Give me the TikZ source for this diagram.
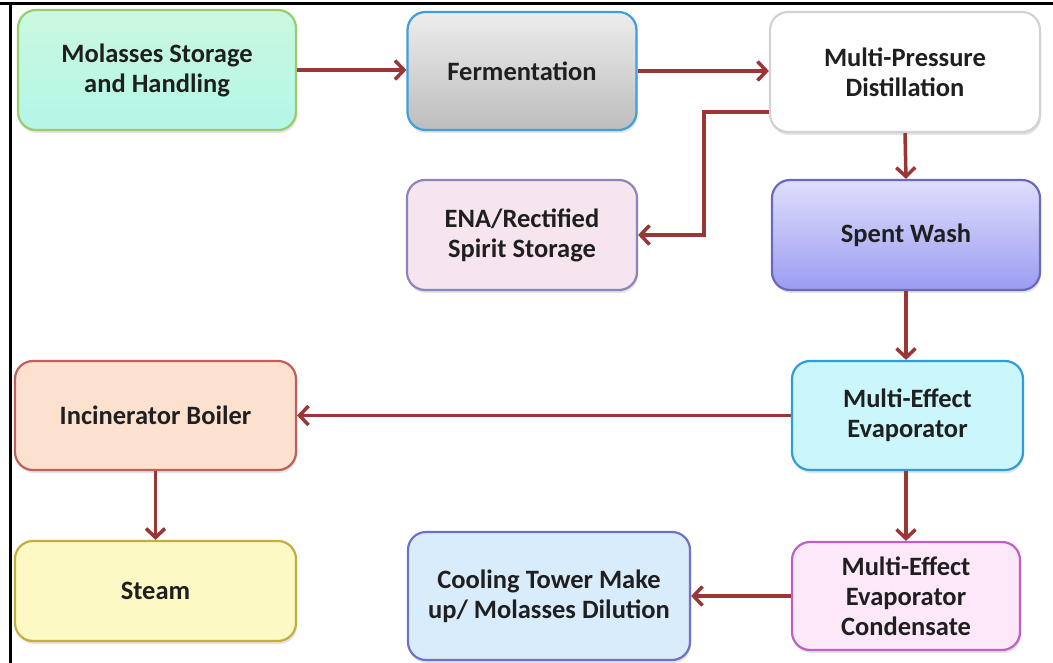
\documentclass[tikz,border=0pt]{standalone}
\usepackage{fontspec}
\setmainfont{Carlito}
\usetikzlibrary{arrows.meta,shadows}
\definecolor{arrowred}{HTML}{9A3636}
\definecolor{molB}{HTML}{9ACD6A}\definecolor{molT}{HTML}{CBF8DF}\definecolor{molD}{HTML}{B3F6E8}
\definecolor{ferB}{HTML}{3E9FDC}\definecolor{ferT}{HTML}{EDEDED}\definecolor{ferD}{HTML}{BDBDBD}
\definecolor{mpdB}{HTML}{D2D2D2}
\definecolor{enaB}{HTML}{8A86BB}\definecolor{enaF}{HTML}{F6E4EE}
\definecolor{spwB}{HTML}{6A6AB8}\definecolor{spwT}{HTML}{DEDEFC}\definecolor{spwD}{HTML}{9C9CF3}
\definecolor{incB}{HTML}{C0605A}\definecolor{incF}{HTML}{FDE1CF}
\definecolor{meeB}{HTML}{2F9ED8}\definecolor{meeF}{HTML}{CBF6FC}
\definecolor{stmB}{HTML}{C4AE3C}\definecolor{stmF}{HTML}{FDF9C4}
\definecolor{colB}{HTML}{6E72C6}\definecolor{colF}{HTML}{D9ECFB}
\definecolor{mecB}{HTML}{C060C4}\definecolor{mecF}{HTML}{FDE8FA}
\tikzset{
  box/.style={draw, rounded corners=18pt, line width=2.2pt, align=center,
    font=\bfseries\fontsize{26.5}{30}\selectfont, text=black!88, inner sep=0pt,
    drop shadow={opacity=0.22, shadow xshift=1pt, shadow yshift=-3pt}},
  arr/.style={draw=arrowred, line width=3.5pt, -{Straight Barb[length=9pt,width=19pt,line width=3.5pt]}},
  frame/.style={line width=3pt, draw=black}
}
\begin{document}
\begin{tikzpicture}[x=1pt,y=-1pt]
\fill[white] (0,0) rectangle (1053,663);
\useasboundingbox (0,0) rectangle (1053,663);
\draw[frame] (0,4) -- (1053,4);
\draw[frame] (10,4) -- (10,663);

\node[box, draw=molB, top color=molT, bottom color=molD, minimum width=278pt, minimum height=120pt] (mol) at (157,70) {Molasses Storage\\and Handling};
\node[box, draw=ferB, top color=ferT, bottom color=ferD, minimum width=229pt, minimum height=118pt] (ferm) at (522,71) {Fermentation};
\node[box, draw=mpdB, fill=white, minimum width=270pt, minimum height=120pt] (mpd) at (905,72) {Multi-Pressure\\Distillation};
\node[box, draw=enaB, fill=enaF, minimum width=230pt, minimum height=110pt] (ena) at (522,235) {ENA/Rectified\\Spirit Storage};
\node[box, draw=spwB, top color=spwT, bottom color=spwD, minimum width=268pt, minimum height=110pt] (spent) at (906,235) {Spent Wash};
\node[box, draw=incB, fill=incF, minimum width=281pt, minimum height=109pt] (inc) at (155.5,415.5) {Incinerator Boiler};
\node[box, draw=meeB, fill=meeF, minimum width=231pt, minimum height=109pt] (mee) at (907.5,415.5) {Multi-Effect\\Evaporator};
\node[box, draw=stmB, fill=stmF, minimum width=281pt, minimum height=100pt] (steam) at (155.5,591) {Steam};
\node[box, draw=colB, fill=colF, minimum width=282pt, minimum height=128pt] (cool) at (549,596) {Cooling Tower Make\\up/ Molasses Dilution};
\node[box, draw=mecB, fill=mecF, minimum width=228pt, minimum height=108pt] (meec) at (906,596) {Multi-Effect\\Evaporator\\Condensate};

\draw[arr] (mol.east) -- (mol.east -| ferm.west);
\draw[arr] (ferm.east) -- (ferm.east -| mpd.west);
\draw[arr] ([yshift=-40pt]mpd.west) -- ++(-65,0) |- (ena.east);
\draw[arr] (mpd.south) -- (spent.north);
\draw[arr] (spent.south) -- (spent.south |- mee.north);
\draw[arr] (mee.west) -- (mee.west -| inc.east);
\draw[arr] (inc.south) -- (steam.north);
\draw[arr] (mee.south -| meec.north) -- (meec.north);
\draw[arr] (meec.west) -- (meec.west -| cool.east);
\end{tikzpicture}
\end{document}
